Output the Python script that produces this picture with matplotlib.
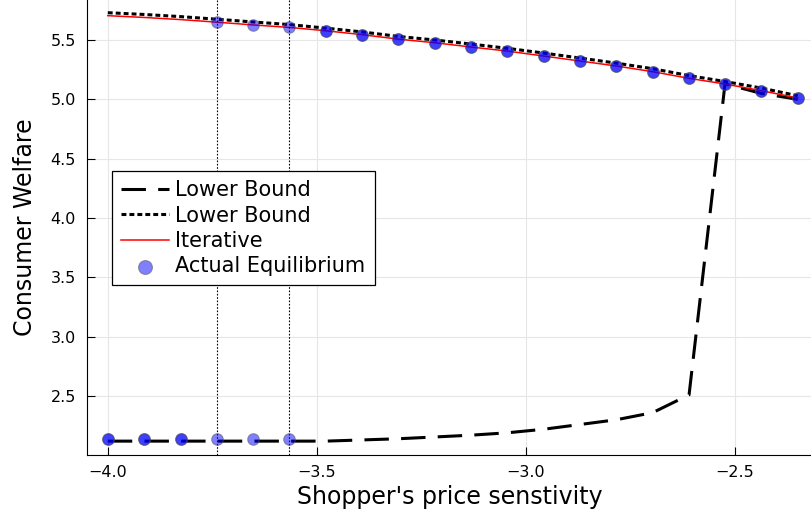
import numpy as np
import matplotlib
matplotlib.use("Agg")
import matplotlib.pyplot as plt

# shopper's price sensitivity grid
sens = [-4.0, -3.913, -3.826, -3.739, -3.653, -3.566, -3.479, -3.392, -3.305, -3.218,
        -3.132, -3.045, -2.958, -2.871, -2.784, -2.697, -2.61, -2.524, -2.437, -2.35]

lower_dash = [2.12, 2.12, 2.12, 2.12, 2.12, 2.12, 2.12, 2.13, 2.14, 2.155,
              2.17, 2.19, 2.22, 2.26, 2.30, 2.36, 2.51, 5.13, 5.05, 5.0]
lower_dot = [5.73, 5.715, 5.697, 5.675, 5.652, 5.63, 5.6, 5.568, 5.53, 5.5,
             5.466, 5.43, 5.39, 5.348, 5.305, 5.258, 5.2, 5.15, 5.095, 5.03]
iterative = [5.705, 5.69, 5.672, 5.65, 5.627, 5.606, 5.578, 5.545, 5.507, 5.477,
             5.441, 5.407, 5.365, 5.323, 5.281, 5.233, 5.177, 5.129, 5.073, 5.011]
# two equilibrium selections (they coincide outside the multiplicity region)
eq_a = [2.14, 2.14, 2.14, 2.14, 2.14, 2.14, 5.578, 5.545, 5.507, 5.477,
        5.441, 5.407, 5.365, 5.323, 5.281, 5.233, 5.177, 5.129, 5.073, 5.011]
eq_b = [2.14, 2.14, 2.14, 5.65, 5.627, 5.606, 5.578, 5.545, 5.507, 5.477,
        5.441, 5.407, 5.365, 5.323, 5.281, 5.233, 5.177, 5.129, 5.073, 5.011]
bounds = [sens[3], sens[5]]

fig = plt.figure(figsize=(8.12, 5.18), dpi=100)
ax = fig.add_axes([0.107, 0.1216, 0.893, 0.8784])

ax.plot(sens, lower_dash, color="black", lw=2.2, dashes=(8, 4), label="Lower Bound")
ax.plot(sens, lower_dot, color="black", lw=2.2, dashes=(1.6, 1.0), label="Lower Bound")
ax.plot(sens, iterative, color="red", lw=1.1, label="Iterative")
ax.scatter(sens, eq_a, s=70, color="blue", alpha=0.5, edgecolors="#555555",
           linewidths=0.8, zorder=3, label="Actual Equilibrium")
ax.scatter(sens, eq_b, s=70, color="blue", alpha=0.5, edgecolors="#555555",
           linewidths=0.8, zorder=3)
for b in bounds:
    ax.axvline(b, color="black", lw=0.8, ls=(0, (1.5, 1.5)))

ax.set_xlim(-4.05, -2.316)
ax.set_ylim(2.003, 5.837)
ax.set_xticks([-4.0, -3.5, -3.0, -2.5])
ax.set_yticks([2.5, 3.0, 3.5, 4.0, 4.5, 5.0, 5.5])
ax.set_xticklabels(["\u22124.0", "\u22123.5", "\u22123.0", "\u22122.5"])
ax.tick_params(direction="in", labelsize=11.5, length=5.5, width=0.8)
ax.tick_params(axis="y", pad=8)
ax.tick_params(axis="x", pad=7)
ax.grid(True, color="#e6e6e6", lw=0.8)
ax.spines["top"].set_visible(False)
ax.spines["right"].set_visible(False)
ax.set_xlabel("Shopper's price senstivity", fontsize=17, labelpad=4)
ax.set_ylabel("Consumer Welfare", fontsize=17, labelpad=10)

leg = ax.legend(loc="upper left", bbox_to_anchor=(0.0345, 0.624), fontsize=15,
                frameon=True, fancybox=False, edgecolor="black", framealpha=1,
                handlelength=2.3, handletextpad=0.3, labelspacing=0.25,
                borderpad=0.45, borderaxespad=0, markerscale=1.2)
leg.get_frame().set_linewidth(0.9)

fig.savefig("out.png", dpi=100)
